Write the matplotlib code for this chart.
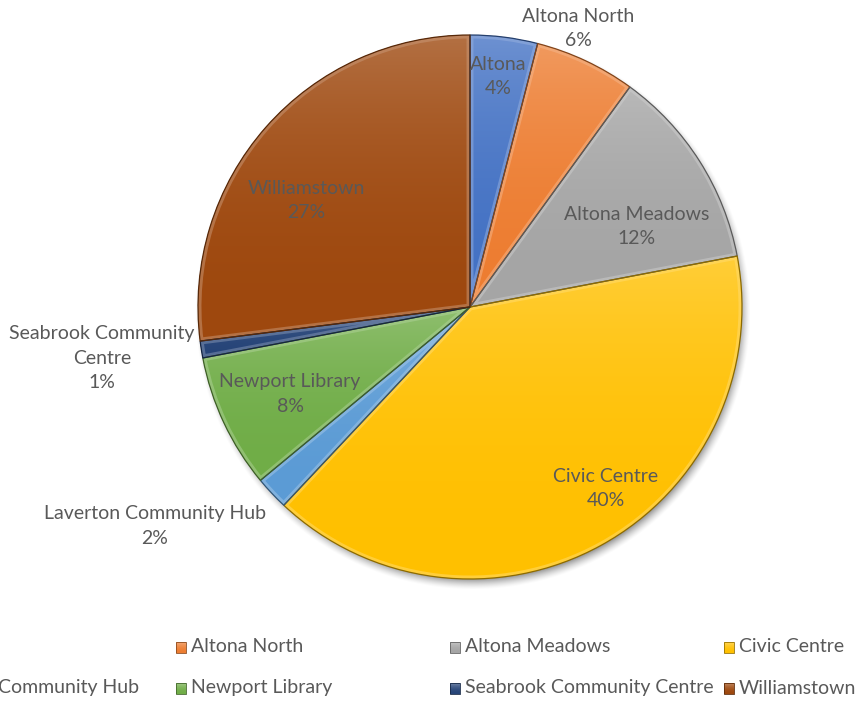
import textwrap
import numpy as np
import matplotlib
matplotlib.use("Agg")
import matplotlib.pyplot as plt
from matplotlib.colors import to_rgb
from matplotlib.patches import Rectangle, Wedge

# ---- data -------------------------------------------------------------
labels = ["Altona", "Altona North", "Altona Meadows", "Civic Centre",
          "Laverton Community Hub", "Newport Library",
          "Seabrook Community Centre", "Williamstown"]
shares = [4, 6, 12, 40, 2, 8, 1, 27]
colors = ["#4472C4", "#ED7D31", "#A5A5A5", "#FFC000",
          "#5B9BD5", "#70AD47", "#264478", "#9E480E"]

# ---- layout (pixel units, y measured from the top) ---------------------
W, H = 861, 703
CX, CY, R = 470, 307, 272
label_pos = [(498, 76), (578, 28), (637, 226), (606, 489),
             (155, 526), (290, 394), (102, 358), (306, 200)]
wrap_width = [None, None, None, None, None, None, 20, None]
legend_x0, legend_dx = -98, 274
legend_rows = [647, 688]
TEXT = "#595959"
FONT = ["Lato", "DejaVu Sans"]
FS = 14

plt.rcParams["font.family"] = FONT

fig = plt.figure(figsize=(W / 100, H / 100), dpi=100)
ax = fig.add_axes([0, 0, 1, 1])


def py(y):
    return H - y


def mix(c, other, t):
    c = np.array(to_rgb(c))
    o = np.array(to_rgb(other))
    return c * (1 - t) + o * t


def vgrad(c, lift, power, n=256):
    t = np.linspace(0, 1, n)[:, None]  # 0 at top, 1 at bottom
    light = mix(c, "white", lift)
    base = np.array(to_rgb(c))
    k = (1 - t) ** power
    g = base[None, :] * (1 - k) + light[None, :] * k
    return np.dstack([g[:, 0:1], g[:, 1:2], g[:, 2:3]])


# soft drop shadow under the pie
gx, gy = np.meshgrid(np.arange(W) + 0.5, np.arange(H) + 0.5)
d = np.hypot(gx - (CX + 3), gy - (CY + 5))
sh = np.clip((R + 6 - d) / 12.0, 0, 1)
shadow = np.zeros((H, W, 4))
shadow[..., 3] = 0.45 * sh ** 1.5
ax.imshow(shadow, extent=(0, W, 0, H), origin="upper", zorder=0,
          interpolation="bilinear")

wedges, _ = ax.pie(shares, colors=colors, startangle=90, counterclock=False,
                   center=(CX, py(CY)), radius=R,
                   wedgeprops=dict(linewidth=0))

for w, c in zip(wedges, colors):
    w.set_zorder(1)
    th = np.radians(np.linspace(w.theta1, w.theta2, 200))
    xs = np.r_[CX, CX + R * np.cos(th)]
    ys = np.r_[py(CY), py(CY) + R * np.sin(th)]
    x0, x1, y0, y1 = xs.min(), xs.max(), ys.min(), ys.max()
    im = ax.imshow(vgrad(c, 0.22, 2.2), extent=(x0, x1, y0, y1),
                   origin="upper", aspect="auto", zorder=2,
                   interpolation="bilinear")
    im.set_clip_path(w)
    # bevel: light inner rim and a thin dark outline
    rim = Wedge(w.center, w.r, w.theta1, w.theta2, fill=False,
                edgecolor=mix(c, "white", 0.45), linewidth=5, alpha=0.5,
                zorder=3)
    ax.add_patch(rim)
    rim.set_clip_path(w)
    edge = Wedge(w.center, w.r, w.theta1, w.theta2, fill=False,
                 edgecolor=mix(c, "black", 0.45), linewidth=0.9, zorder=4)
    ax.add_patch(edge)

# data labels
for lab, val, (lx, ly), ww in zip(labels, shares, label_pos, wrap_width):
    name = textwrap.fill(lab, ww) if ww else lab
    ax.text(lx, py(ly), f"{name}\n{val}%", ha="center", va="center",
            color=TEXT, fontsize=FS, linespacing=1.5, zorder=5)

# legend (four columns, two rows)
for i, (lab, c) in enumerate(zip(labels, colors)):
    row, col = divmod(i, 4)
    mx = legend_x0 + col * legend_dx
    my = legend_rows[row]
    ax.imshow(vgrad(c, 0.35, 2, 32), extent=(mx, mx + 10, py(my + 6), py(my - 5)),
              origin="upper", aspect="auto", zorder=5)
    ax.add_patch(Rectangle((mx, py(my + 6)), 10, 11, fill=False,
                           edgecolor=mix(c, "black", 0.4), linewidth=0.6,
                           zorder=6))
    ax.text(mx + 15, py(my), lab, ha="left", va="center", color=TEXT,
            fontsize=FS, zorder=6)

ax.set_xlim(0, W)
ax.set_ylim(0, H)
ax.set_axis_off()

fig.savefig("out.png", dpi=100, facecolor="white")
